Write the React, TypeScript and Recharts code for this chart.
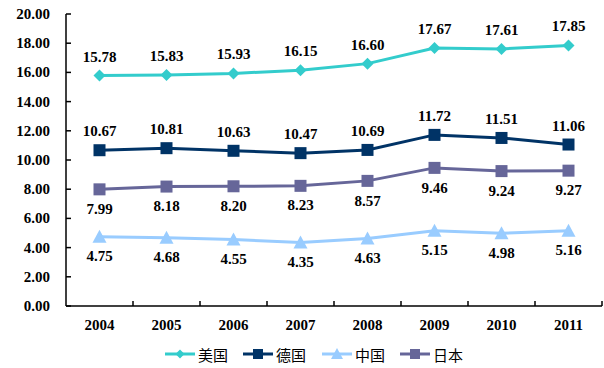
import { LineChart, Line, XAxis, YAxis, LabelList } from 'recharts';

const years = ['2004', '2005', '2006', '2007', '2008', '2009', '2010', '2011'];
const usa = [15.78, 15.83, 15.93, 16.15, 16.6, 17.67, 17.61, 17.85];
const germany = [10.67, 10.81, 10.63, 10.47, 10.69, 11.72, 11.51, 11.06];
const china = [4.75, 4.68, 4.55, 4.35, 4.63, 5.15, 4.98, 5.16];
const japan = [7.99, 8.18, 8.2, 8.23, 8.57, 9.46, 9.24, 9.27];
const yTicks = [0, 2, 4, 6, 8, 10, 12, 14, 16, 18, 20];

const data = years.map((y, i) => ({
  year: y,
  usa: usa[i],
  germany: germany[i],
  china: china[i],
  japan: japan[i],
}));

const series = [
  { key: 'usa', name: '美国', color: '#33CCCC', shape: 'diamond' },
  { key: 'germany', name: '德国', color: '#003366', shape: 'square' },
  { key: 'china', name: '中国', color: '#99CCFF', shape: 'triangle' },
  { key: 'japan', name: '日本', color: '#666699', shape: 'square' },
];

const numFont = { fontFamily: '"Liberation Serif", "Times New Roman", serif', fontWeight: 700, fontSize: 15, fill: '#000' };

function Marker({ cx, cy, shape, color, size = 12 }: any) {
  if (cx == null || cy == null) return null;
  const h = size / 2;
  if (shape === 'diamond') {
    const d = h + 1;
    return <polygon points={`${cx},${cy - d} ${cx + d},${cy} ${cx},${cy + d} ${cx - d},${cy}`} fill={color} />;
  }
  if (shape === 'triangle') {
    return <polygon points={`${cx},${cy - h - 1} ${cx + h + 1},${cy + h} ${cx - h - 1},${cy + h}`} fill={color} />;
  }
  return <rect x={cx - h} y={cy - h} width={size} height={size} fill={color} />;
}

const YTick = ({ x, y, payload }: any) => (
  <g>
    <line x1={x + 16} x2={x + 21} y1={y} y2={y} stroke="#000" strokeWidth={1.5} />
    <text x={x} y={y} textAnchor="end" dominantBaseline="central" style={numFont}>
      {Number(payload.value).toFixed(2)}
    </text>
  </g>
);

const XTick = ({ x, y, payload }: any) => {
  const axisY = y - 19;
  const half = 33.5;
  return (
    <g>
      <line x1={x + half} x2={x + half} y1={axisY} y2={axisY - 5} stroke="#000" strokeWidth={1.5} />
      <text x={x} y={y} textAnchor="middle" dominantBaseline="central" style={numFont}>
        {payload.value}
      </text>
    </g>
  );
};

const LegendBox = () => {
  const xs = [165, 243, 322, 400];
  return (
    <svg width={604} height={368} style={{ position: 'absolute', left: 0, top: 0, pointerEvents: 'none' }}>
      {series.map((s, i) => (
        <g key={s.key}>
          <line x1={xs[i]} x2={xs[i] + 30} y1={354} y2={354} stroke={s.color} strokeWidth={3} />
          <Marker cx={xs[i] + 15} cy={354} shape={s.shape} color={s.color} size={s.shape === 'diamond' ? 7 : 10} />
          <text x={xs[i] + 33} y={354} dominantBaseline="central" style={{ fontFamily: '"Noto Sans CJK SC", serif', fontSize: 15, fill: '#000' }}>
            {s.name}
          </text>
        </g>
      ))}
    </svg>
  );
};

export default function App() {
  return (
    <div style={{ position: 'absolute', left: 0, top: 0, width: 604, height: 368, background: '#fff' }}>
      <LineChart width={604} height={368} data={data} margin={{ top: 14, right: 2, left: 0, bottom: 32 }}>
        <XAxis
          dataKey="year"
          scale="band"
          axisLine={{ stroke: '#000', strokeWidth: 1.5 }}
          tickLine={false}
          tickSize={0}
          tickMargin={19}
          tick={<XTick />}
          height={30}
          interval={0}
        />
        <YAxis
          domain={[0, 20]}
          ticks={yTicks}
          width={66}
          axisLine={{ stroke: '#000', strokeWidth: 1.5 }}
          tickLine={false}
          tickSize={0}
          tickMargin={16}
          tick={<YTick />}
          interval={0}
        />
        {series.map((s) => (
          <Line
            key={s.key}
            dataKey={s.key}
            name={s.name}
            stroke={s.color}
            strokeWidth={3}
            isAnimationActive={false}
            dot={(p: any) => <Marker key={`${s.key}-${p.index}`} cx={p.cx} cy={p.cy} shape={s.shape} color={s.color} size={s.shape === 'diamond' ? 10 : 12} />}
            activeDot={false}
          >
            <LabelList
              dataKey={s.key}
              position={s.key === 'usa' || s.key === 'germany' ? 'top' : 'bottom'}
              offset={14}
              formatter={(v: any) => Number(v).toFixed(2)}
              style={numFont}
            />
          </Line>
        ))}
      </LineChart>
      <LegendBox />
    </div>
  );
}
